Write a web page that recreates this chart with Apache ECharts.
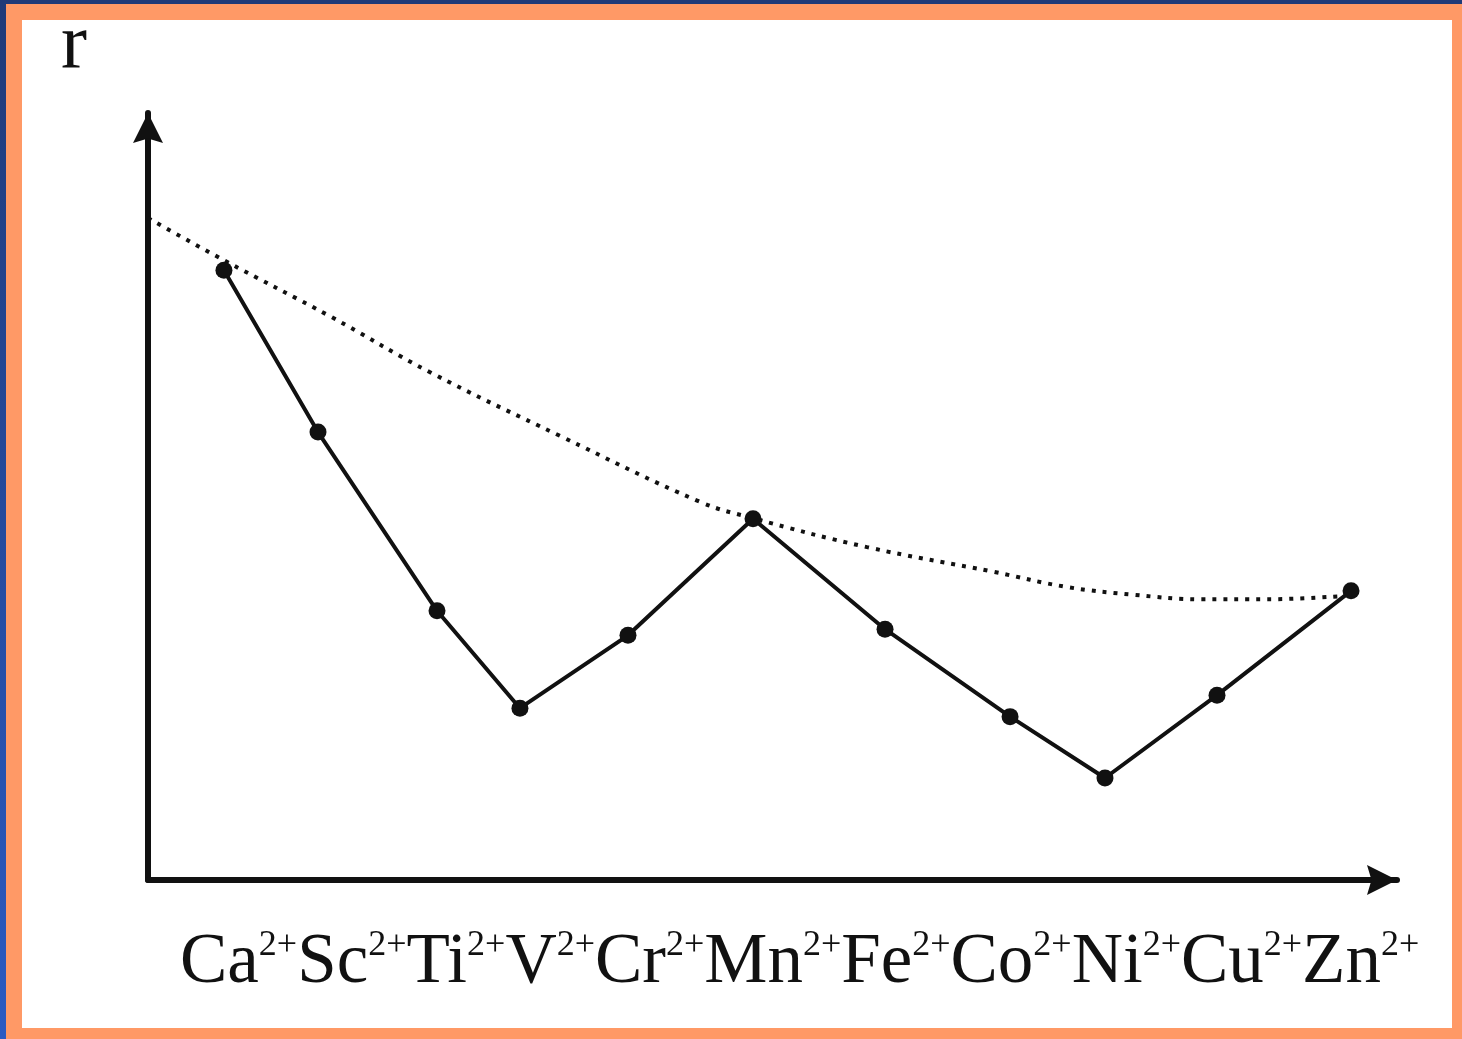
<!DOCTYPE html>
<html>
<head>
<meta charset="utf-8">
<script src="https://cdn.jsdelivr.net/npm/echarts@6/dist/echarts.min.js"></script>
<style>
  html, body { margin: 0; padding: 0; width: 1462px; height: 1039px; overflow: hidden; background: #FF9966; }
  #topbar { position: absolute; left: 0; top: 0; width: 1462px; height: 4px; background: #1F3A78; }
  #leftbar { position: absolute; left: 0; top: 0; width: 6px; height: 1039px; background: linear-gradient(#1F3A78, #2B5BC2); }
  #panel { position: absolute; left: 22px; top: 20px; width: 1430px; height: 1008px; background: #ffffff; }
  #chart { position: absolute; left: 0; top: 0; width: 1462px; height: 1039px; }
</style>
</head>
<body>
<div id="topbar"></div>
<div id="leftbar"></div>
<div id="panel"></div>
<div id="chart"></div>
<script>
// Ions along the x axis (arbitrary position units, 0-100)
const ions = ['Ca','Sc','Ti','V','Cr','Mn','Fe','Co','Ni','Cu','Zn'];
const charge = '2+';
const ionX = [6.08, 13.61, 23.14, 29.78, 38.43, 48.44, 59.01, 69.02, 76.62, 85.59, 96.32];
// Ionic radius r (arbitrary units, 0-100)
const radius = [79.5, 58.4, 35.1, 22.4, 31.9, 47.1, 32.7, 21.3, 13.3, 24.1, 37.7];
// Dotted trend curve (spherical-field expectation)
const trendX = [0, 6.08, 14.57, 22.58, 32.99, 44.20, 48.36, 57.57, 67.65, 73.58, 78.86, 84.23, 89.59, 95.44];
const trendY = [86.3, 80.8, 73.5, 66.2, 57.9, 49.3, 47.2, 43.4, 40.2, 38.2, 37.2, 36.6, 36.6, 37.0];
const yName = 'r';

const serif = '"Liberation Serif", "DejaVu Serif", serif';
const ink = '#111111';
const arrow = 'path://M10,0L20,20L10,17L0,20Z';

const labelText = ions.map(n => '{m|' + n + '}{s|' + charge + '}').join('');

const chart = echarts.init(document.getElementById('chart'), null, { renderer: 'canvas' });
chart.setOption({
  backgroundColor: 'transparent',
  animation: false,
  title: [
    {
      text: labelText,
      left: 180, top: 928, padding: 0,
      textStyle: {
        fontFamily: serif, fontSize: 71, lineHeight: 71, color: ink, fontWeight: 'normal',
        rich: {
          m: { fontFamily: serif, fontSize: 71, lineHeight: 71, color: ink },
          s: { fontFamily: serif, fontSize: 36, lineHeight: 36, color: ink, verticalAlign: 'top' }
        }
      }
    },
    {
      text: yName,
      left: 61, top: 8, padding: 0,
      textStyle: { fontFamily: serif, fontSize: 78, lineHeight: 78, color: ink, fontWeight: 'normal' }
    }
  ],
  grid: { left: 148, right: 65, top: 113, bottom: 159, containLabel: false },
  xAxis: {
    type: 'value', min: 0, max: 100,
    axisLine: { show: true, onZero: false, symbol: ['none', arrow], symbolSize: [30, 30], symbolOffset: [0, -15], lineStyle: { color: ink, width: 6 } },
    axisTick: { show: false }, axisLabel: { show: false }, splitLine: { show: false }
  },
  yAxis: {
    type: 'value', min: 0, max: 100,
    axisLine: { show: true, onZero: false, symbol: ['none', arrow], symbolSize: [30, 30], symbolOffset: [0, -15], lineStyle: { color: ink, width: 6 } },
    axisTick: { show: false }, axisLabel: { show: false }, splitLine: { show: false }
  },
  series: [
    {
      type: 'line',
      data: trendX.map((x, i) => [x, trendY[i]]),
      smooth: 0.4,
      showSymbol: false,
      lineStyle: { color: ink, width: 4, type: [4, 7], cap: 'butt' },
      z: 2
    },
    {
      type: 'line',
      data: ionX.map((x, i) => [x, radius[i]]),
      symbol: 'circle', symbolSize: 17,
      itemStyle: { color: ink },
      lineStyle: { color: ink, width: 4 },
      z: 3
    }
  ]
});
</script>
</body>
</html>
